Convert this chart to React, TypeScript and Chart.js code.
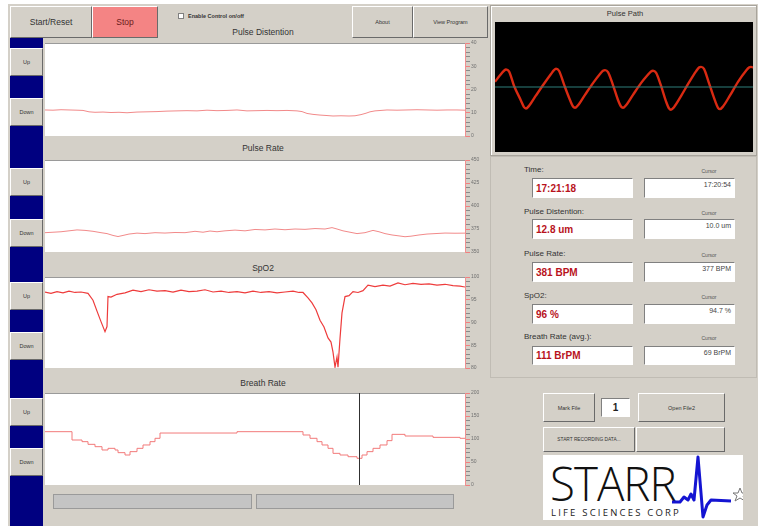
import React, { useEffect, useRef } from "react";
import { Chart, registerables } from "chart.js";
Chart.register(...registerables);

// ---------- data ----------
const X_MIN = 0;
const X_MAX = 420;

const pdX = [0,8,16,24,32,38,44,50,58,66,74,82,92,102,112,122,132,142,152,162,172,182,192,202,212,222,232,242,252,257,262,268,275,282,288,296,304,310,316,321,325,330,336,342,352,362,372,382,392,402,412,420];
const pdY = [11.2,11.1,11.3,11.2,11.1,11.0,10.4,10.2,10.3,10.1,10.2,10.0,10.3,10.4,10.5,10.7,10.8,10.9,10.8,11.1,10.9,11.0,11.2,10.8,10.9,11.0,10.9,11.0,10.8,10.5,9.7,9.3,9.0,8.8,8.6,8.7,8.6,8.7,9.2,9.8,10.4,10.8,11.0,11.2,11.1,11.2,11.3,11.2,11.1,11.2,11.2,11.1];
const pdAxis = [0, 40];

const prX = [0,8,16,24,32,40,48,56,62,68,73,78,84,92,100,110,120,130,140,150,158,165,172,180,190,200,210,220,230,240,250,260,270,280,287,292,298,305,312,320,328,334,340,347,354,360,366,374,382,390,400,410,420];
const prY = [371,371.5,372,373,374,373.5,372.5,371,370,368,366.8,368,369.5,370.5,370,371,370.6,371.2,371,372.5,371.5,372.8,372,373,373.8,373,374.5,374,375,374.2,375,374.6,375.5,375,376.5,375,373,371.5,370,371,373.5,372,370,368.5,367.5,366.6,367.2,368.5,369.5,370,370.6,370.4,370.5];
const prAxis = [350, 450];

const spX = [0,6,12,18,24,30,36,43,48,52,56,60,62,63,66,72,80,88,96,104,112,120,128,136,144,152,160,168,176,184,192,200,208,216,224,232,240,248,254,258,263,267,271,275,279,283,286,288,290,292,293,295,297,300,304,308,313,318,323,330,338,345,353,360,368,376,384,392,400,408,415,420];
const spY = [96.7,96.4,96.8,96.5,96.9,96.6,96.7,96.4,94.9,92.5,90.2,88.0,89.1,95.7,95.6,96.2,96.5,97.1,96.8,97.2,96.9,97.0,96.7,97.1,96.8,96.9,97.2,96.7,96.9,96.6,96.8,96.5,96.9,96.6,96.8,96.5,96.7,96.9,96.6,96.6,95.4,94.3,92.8,90.5,89.0,86.6,85.7,83.5,80.2,82.4,80.2,86.5,92.1,95.7,95.9,96.8,96.6,97.0,98.2,97.9,98.2,98.0,98.7,98.3,98.6,98.4,98.5,98.2,98.4,98.1,98.0,97.8];
const spAxis = [80, 100];

const brX = [0,27,37,43,50,57,63,70,73,80,85,92,98,105,110,115,192,258,265,272,277,283,288,295,303,312,317,322,328,335,342,347,360,388,415,420];
const brY = [115.9,97.8,94.2,88.4,83.3,76.1,79.7,76.1,70.3,65.2,72.5,79.7,87.0,94.2,101.5,113.0,115.9,108.7,101.5,94.2,87.0,79.7,68.8,65.2,61.5,58.0,65.2,72.5,79.7,87.0,96.4,110.1,106.5,103.6,101.5,101.5];
const brAxis = [0, 200];
const brCursor = 314;

const ppX = [0,5,9,11,14,19,26,29,31,34,41,49,56,59,61,64,69,75,78,80,83,90,98,105,108,110,113,118,123,126,128,131,138,146,153,156,158,161,166,171,174,176,179,186,194,201,204,206,209,214,220,223,225,228,235,243,251,254,256,258];
const ppY = [8,18,25,27,24,2,-21,-31,-33,-29,-13,5,20,26,28,25,4,-20,-30,-32,-28,-12,6,20,25,26,23,3,-20,-30,-32,-28,-12,6,19,24,25,22,2,-22,-33,-35,-31,-14,7,24,30,31,28,6,-21,-32,-34,-30,-13,8,25,30,31,30];
const ppBaseX = [0, 258];
const ppBaseY = [0, 0];

const readLabels = ["Time:", "Pulse Distention:", "Pulse Rate:", "SpO2:", "Breath Rate (avg.):"];
const readNow = ["17:21:18", "12.8 um", "381 BPM", "96 %", "111 BrPM"];
const readCursor = ["17:20:54", "10.0 um", "377 BPM", "94.7 %", "69 BrPM"];

// ---------- styles ----------
const BG = "#d4d0c8";
const FONT = "'Liberation Sans', Arial, sans-serif";
const PAD = 4;

const abs = (x: number, y: number, w: number, h: number): React.CSSProperties => ({
  position: "absolute", left: x, top: y, width: w, height: h, boxSizing: "border-box",
});

const raised: React.CSSProperties = {
  borderStyle: "solid", borderWidth: 1, borderColor: "#ffffff #6a6a6a #6a6a6a #ffffff",
};
const sunken: React.CSSProperties = {
  borderStyle: "solid", borderWidth: 1, borderColor: "#808080 #ffffff #ffffff #808080",
};

function Btn({ x, y, w, h, label, bg = BG, size = 6, color = "#333", weight = 400 }: any) {
  return (
    <div style={{ ...abs(x, y, w, h), ...raised, background: bg, display: "flex", alignItems: "center",
      justifyContent: "center", fontFamily: FONT, fontSize: size, color, fontWeight: weight, whiteSpace: "nowrap" }}>
      {label}
    </div>
  );
}

function Txt({ x, y, w, label, size = 8.5, align = "center", color = "#222", weight = 400 }: any) {
  return (
    <div style={{ position: "absolute", left: x, top: y - size * 0.6, width: w, textAlign: align, fontFamily: FONT,
      fontSize: size, lineHeight: `${size * 1.2}px`, color, fontWeight: weight, whiteSpace: "nowrap" }}>
      {label}
    </div>
  );
}

const bgPlugin = {
  id: "plotBg",
  beforeDraw(chart: any) {
    const { ctx, chartArea: a } = chart;
    ctx.save();
    ctx.fillStyle = "#ffffff";
    ctx.fillRect(a.left, a.top, a.right - a.left, a.bottom - a.top);
    ctx.strokeStyle = "#9a9a9a";
    ctx.lineWidth = 1;
    ctx.beginPath();
    ctx.moveTo(a.left, a.top + 0.5);
    ctx.lineTo(a.right, a.top + 0.5);
    ctx.stroke();
    ctx.restore();
  },
};

const cursorPlugin = {
  id: "cursorLine",
  afterDatasetsDraw(chart: any, _args: any, opts: any) {
    if (opts == null || opts.x == null) return;
    const { ctx, chartArea: a } = chart;
    const px = Math.round(chart.scales.x.getPixelForValue(opts.x)) + 0.5;
    ctx.save();
    ctx.strokeStyle = "#303030";
    ctx.lineWidth = 1;
    ctx.beginPath();
    ctx.moveTo(px, a.top);
    ctx.lineTo(px, a.bottom);
    ctx.stroke();
    ctx.restore();
  },
};

function Strip({ xs, ys, axis, top, h, color, width, stepped, cursor }: any) {
  const ref = useRef<HTMLCanvasElement>(null);
  useEffect(() => {
    const [min, max] = axis;
    const c = new Chart(ref.current!, {
      type: "line",
      data: {
        datasets: [{
          data: xs.map((x: number, i: number) => ({ x, y: ys[i] })),
          borderColor: color, borderWidth: width, pointRadius: 0, tension: 0,
          stepped: stepped ? "before" : false,
        }],
      },
      options: {
        animation: false, responsive: false, maintainAspectRatio: false, events: [],
        layout: { padding: { top: PAD, bottom: PAD, left: 0, right: 0 } },
        plugins: { legend: { display: false }, tooltip: { enabled: false }, cursorLine: { x: cursor } } as any,
        scales: {
          x: { type: "linear", min: X_MIN, max: X_MAX, display: false },
          y: {
            position: "right", min, max,
            afterFit: (s: any) => { s.width = 25; },
            border: { color: "#f09090", width: 1 },
            grid: {
              drawOnChartArea: false, tickLength: 5,
              color: (ctx: any) => (ctx.index % 5 === 0 ? "#f08080" : "#8a8a8a"),
            },
            ticks: {
              stepSize: (max - min) / 20, autoSkip: false, padding: 1, color: "#707070",
              font: { size: 5, family: FONT },
              callback: (v: any, i: number) => (i % 5 === 0 ? String(v) : ""),
            },
          },
        },
      } as any,
      plugins: [bgPlugin, cursorPlugin],
    });
    return () => c.destroy();
  }, []);
  return (
    <canvas ref={ref} width={445} height={h + 2 * PAD}
      style={{ position: "absolute", left: 45, top: top - PAD, width: 445, height: h + 2 * PAD }} />
  );
}

function PulsePath() {
  const ref = useRef<HTMLCanvasElement>(null);
  useEffect(() => {
    const c = new Chart(ref.current!, {
      type: "line",
      data: {
        datasets: [
          {
            data: ppBaseX.map((x, i) => ({ x, y: ppBaseY[i] })),
            borderColor: "#2f7f7a", borderWidth: 1, pointRadius: 0,
          },
          {
            data: ppX.map((x, i) => ({ x, y: ppY[i] })),
            borderColor: "#d92a12", borderWidth: 2.4, pointRadius: 0,
            cubicInterpolationMode: "monotone",
          },
        ],
      },
      options: {
        animation: false, responsive: false, maintainAspectRatio: false, events: [],
        layout: { padding: 0 },
        plugins: { legend: { display: false }, tooltip: { enabled: false } },
        scales: {
          x: { type: "linear", min: 0, max: 258, display: false },
          y: { min: -100, max: 100, display: false },
        },
      } as any,
    });
    return () => c.destroy();
  }, []);
  return (
    <canvas ref={ref} width={258} height={130}
      style={{ position: "absolute", left: 495, top: 22, width: 258, height: 130, background: "#000" }} />
  );
}

const strips = [
  { xs: pdX, ys: pdY, axis: pdAxis, top: 43, h: 93, color: "#f28a8a", width: 1, up: 48, down: 98 },
  { xs: prX, ys: prY, axis: prAxis, top: 160, h: 92, color: "#f28a8a", width: 1, up: 168, down: 219 },
  { xs: spX, ys: spY, axis: spAxis, top: 277, h: 91, color: "#ee3c3c", width: 1.2, up: 282, down: 332 },
  { xs: brX, ys: brY, axis: brAxis, top: 393, h: 92, color: "#f27a7a", width: 1, up: 398, down: 448, stepped: true, cursor: brCursor },
];
const titles = [
  { label: "Pulse Distention", y: 32 },
  { label: "Pulse Rate", y: 148 },
  { label: "SpO2", y: 268 },
  { label: "Breath Rate", y: 383 },
];
const readRows = [
  { ly: 170, by: 178 },
  { ly: 212, by: 219 },
  { ly: 254, by: 262 },
  { ly: 296, by: 304 },
  { ly: 337, by: 346 },
];

export default function App() {
  useEffect(() => {
    document.body.style.margin = "0";
  }, []);
  return (
    <div style={{ position: "relative", width: 761, height: 526, background: "#fff", overflow: "hidden", fontFamily: FONT }}>
      <div style={{ ...abs(8, 4, 750, 522), background: BG }} />
      {/* left blue strip */}
      <div style={{ ...abs(10, 38, 33, 488), background: "#000080" }} />

      {/* top bar */}
      <Btn x={10} y={6} w={82} h={32} label="Start/Reset" size={8.5} color="#333" />
      <Btn x={92} y={6} w={66} h={32} label="Stop" bg="#f48484" size={8.5} color="#6a1a1a" />
      <div style={{ ...abs(178, 13, 6, 6), background: "#fff", border: "1px solid #808080" }} />
      <Txt x={188} y={16} w={80} label="Enable Control on/off" size={5.5} align="left" weight={700} color="#333" />
      <Btn x={352} y={6} w={61} h={32} label="About" size={5.5} />
      <Btn x={413} y={6} w={75} h={32} label="View Program" size={5.5} />

      {titles.map((t) => (
        <Txt key={t.label} x={45} y={t.y} w={436} label={t.label} size={8.5} color="#333" />
      ))}

      {strips.map((s, i) => (
        <React.Fragment key={i}>
          <Btn x={10} y={s.up} w={33} h={28} label="Up" size={5.5} />
          <Btn x={10} y={s.down} w={33} h={28} label="Down" size={5.5} />
          <Strip xs={s.xs} ys={s.ys} axis={s.axis} top={s.top} h={s.h} color={s.color} width={s.width}
            stepped={s.stepped} cursor={s.cursor} />
        </React.Fragment>
      ))}

      {/* scroll bars */}
      <div style={{ ...abs(53, 494, 199, 15), background: "#c4c4c4", border: "1px solid #9a9a9a" }} />
      <div style={{ ...abs(256, 494, 198, 15), background: "#c4c4c4", border: "1px solid #9a9a9a" }} />

      {/* pulse path panel */}
      <div style={{ ...abs(490, 5, 267, 151), border: "1px solid #a8a49c", boxShadow: "inset 1px 1px 0 #fff" }} />
      <Txt x={490} y={13} w={270} label="Pulse Path" size={7.5} color="#333" />
      <PulsePath />

      {/* readouts panel */}
      <div style={{ ...abs(490, 156, 267, 222), border: "1px solid #c0bcb4" }} />
      {readRows.map((r, i) => (
        <React.Fragment key={i}>
          <Txt x={524} y={r.ly} w={120} label={readLabels[i]} size={8} align="left" color="#333" />
          <Txt x={680} y={r.ly + 1} w={58} label="Cursor" size={5} align="center" color="#555" />
          <div style={{ ...abs(532, r.by, 101, r.by === 346 ? 19 : 20), ...sunken, background: "#fff",
            display: "flex", alignItems: "center", paddingLeft: 3, fontFamily: FONT, fontSize: 10,
            fontWeight: 700, color: "#b8121c", whiteSpace: "nowrap" }}>{readNow[i]}</div>
          <div style={{ ...abs(644, r.by, 91, r.by === 346 ? 19 : 20), ...sunken, background: "#fff",
            textAlign: "right", paddingRight: 3, paddingTop: 2, fontFamily: FONT, fontSize: 7, color: "#444",
            whiteSpace: "nowrap" }}>{readCursor[i]}</div>
        </React.Fragment>
      ))}

      {/* bottom buttons */}
      <Btn x={543} y={393} w={52} h={29} label="Mark File" size={5.5} />
      <div style={{ ...abs(601, 398, 29, 19), ...sunken, background: "#fff", display: "flex", alignItems: "center",
        justifyContent: "center", fontFamily: FONT, fontSize: 10, fontWeight: 700, color: "#222" }}>1</div>
      <Btn x={638} y={393} w={87} h={29} label="Open File2" size={5.5} />
      <Btn x={543} y={427} w={92} h={25} label="START RECORDING DATA..." size={4.8} />
      <Btn x={636} y={427} w={89} h={25} label="" />

      {/* logo */}
      <div style={{ ...abs(543, 455, 200, 65), background: "#fff" }}>
        <div style={{ position: "absolute", left: 7, top: 4, fontFamily: "'Open Sans', 'DejaVu Sans', sans-serif",
          fontWeight: 300, fontSize: 48, lineHeight: "48px", color: "#111", transform: "scaleX(0.95)",
          transformOrigin: "left top", letterSpacing: -1 }}>STARR</div>
        <div style={{ position: "absolute", left: 8, top: 52, fontFamily: "'Open Sans', 'DejaVu Sans', sans-serif",
          fontSize: 9.5, lineHeight: "11px", letterSpacing: 2.2, color: "#222" }}>LIFE SCIENCES CORP</div>
        <svg width={200} height={65} style={{ position: "absolute", left: 0, top: 0 }}>
          <polyline points="129,47 137,47 141,42 145,45 148,39 151,45 155,2 160,62 164,50 168,45 188,46"
            fill="none" stroke="#1414d2" strokeWidth={3} strokeLinejoin="round" />
          <polygon points="197,33 199,38 204,38 200,41 202,46 197,43 192,46 194,41 190,38 195,38"
            fill="none" stroke="#777" strokeWidth={1} />
        </svg>
      </div>
    </div>
  );
}
